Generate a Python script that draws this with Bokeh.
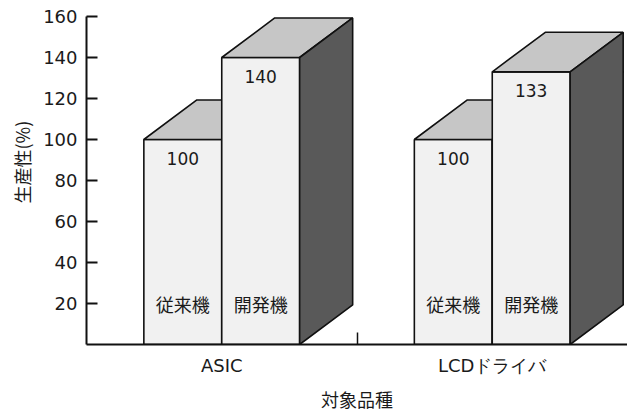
from bokeh.plotting import figure
from bokeh.models import Range1d, FixedTicker, Title
from bokeh.core.properties import value
from bokeh.embed import file_html
from bokeh.resources import INLINE

# ---- data ----
categories = ["ASIC", "LCDドライバ"]
series = ["従来機", "開発機"]
conventional = [100, 100]
developed = [140, 133]
y_ticks = [20, 40, 60, 80, 100, 120, 140, 160]
y_label = "生産性(%)"
x_label = "対象品種"

JP = "Noto Sans CJK JP"
NUM = "DejaVu Sans"
FRONT = "#f1f1f1"
TOP = "#c6c6c6"
SIDE = "#595959"
EDGE = "#111111"
TXT = "#1a1a1a"

p = figure(width=627, height=414, output_backend="svg", toolbar_location=None,
           x_range=Range1d(0, len(categories)), y_range=Range1d(0, 160),
           min_border_left=86, min_border_right=0, min_border_top=16,
           min_border_bottom=70)
p.outline_line_color = None
p.xgrid.visible = False
p.ygrid.visible = False
p.background_fill_color = "white"
p.border_fill_color = "white"

bar_w = 0.288
dx = 0.196
dy = 19.3

values = [conventional, developed]
for ci, cat in enumerate(categories):
    center = ci + 0.5
    for si, ser in enumerate(series):
        v = values[si][ci]
        x0 = center - bar_w + si * bar_w
        x1 = x0 + bar_w
        p.patch([x0, x1, x1, x0], [0, 0, v, v], fill_color=FRONT,
                line_color=EDGE, line_width=1.6)
        p.patch([x0, x1, x1 + dx, x0 + dx], [v, v, v + dy, v + dy],
                fill_color=TOP, line_color=EDGE, line_width=1.6)
        p.patch([x1, x1, x1 + dx, x1 + dx], [0, v, v + dy, dy],
                fill_color=SIDE, line_color=EDGE, line_width=1.6)
        xm = (x0 + x1) / 2
        p.text([xm], [v - 9.3], text=[str(v)], text_align="center",
               text_baseline="middle", text_font=value(NUM),
               text_font_size="17px", text_color=TXT)
        p.text([xm], [20], text=[ser], text_align="center",
               text_baseline="middle", text_font=value(JP),
               text_font_size="18px", text_color=TXT)

# y axis
ya = p.yaxis[0]
ya.ticker = FixedTicker(ticks=y_ticks, minor_ticks=[])
ya.axis_line_width = 2
ya.axis_line_color = EDGE
ya.major_tick_in = 11
ya.major_tick_out = 0
ya.major_tick_line_width = 2
ya.major_tick_line_color = EDGE
ya.minor_tick_line_color = None
ya.major_label_standoff = 9
ya.major_label_text_font = NUM
ya.major_label_text_font_size = "18px"
ya.major_label_text_color = TXT

# x axis
xa = p.xaxis[0]
centers = [i + 0.5 for i in range(len(categories))]
seps = [i for i in range(1, len(categories))]
xa.ticker = FixedTicker(ticks=centers, minor_ticks=seps)
xa.major_label_overrides = {c: categories[i] for i, c in enumerate(centers)}
xa.axis_line_width = 2
xa.axis_line_color = EDGE
xa.major_tick_line_color = None
xa.minor_tick_in = 12
xa.minor_tick_out = 0
xa.minor_tick_line_width = 1.5
xa.minor_tick_line_color = EDGE
xa.major_label_standoff = 4
xa.major_label_text_font = NUM
xa.major_label_text_font_size = "18px"
xa.major_label_text_color = TXT
xa.axis_label = x_label
xa.axis_label_text_font = JP
xa.axis_label_text_font_style = "normal"
xa.axis_label_text_font_size = "18px"
xa.axis_label_text_color = TXT
xa.axis_label_standoff = 7

p.add_layout(Title(text=y_label, align="left", offset=141,
                   text_font=JP, text_font_size="18px",
                   text_font_style="normal", text_color=TXT, standoff=12),
             "left")

open("out.html", "w").write(file_html(p, INLINE))
